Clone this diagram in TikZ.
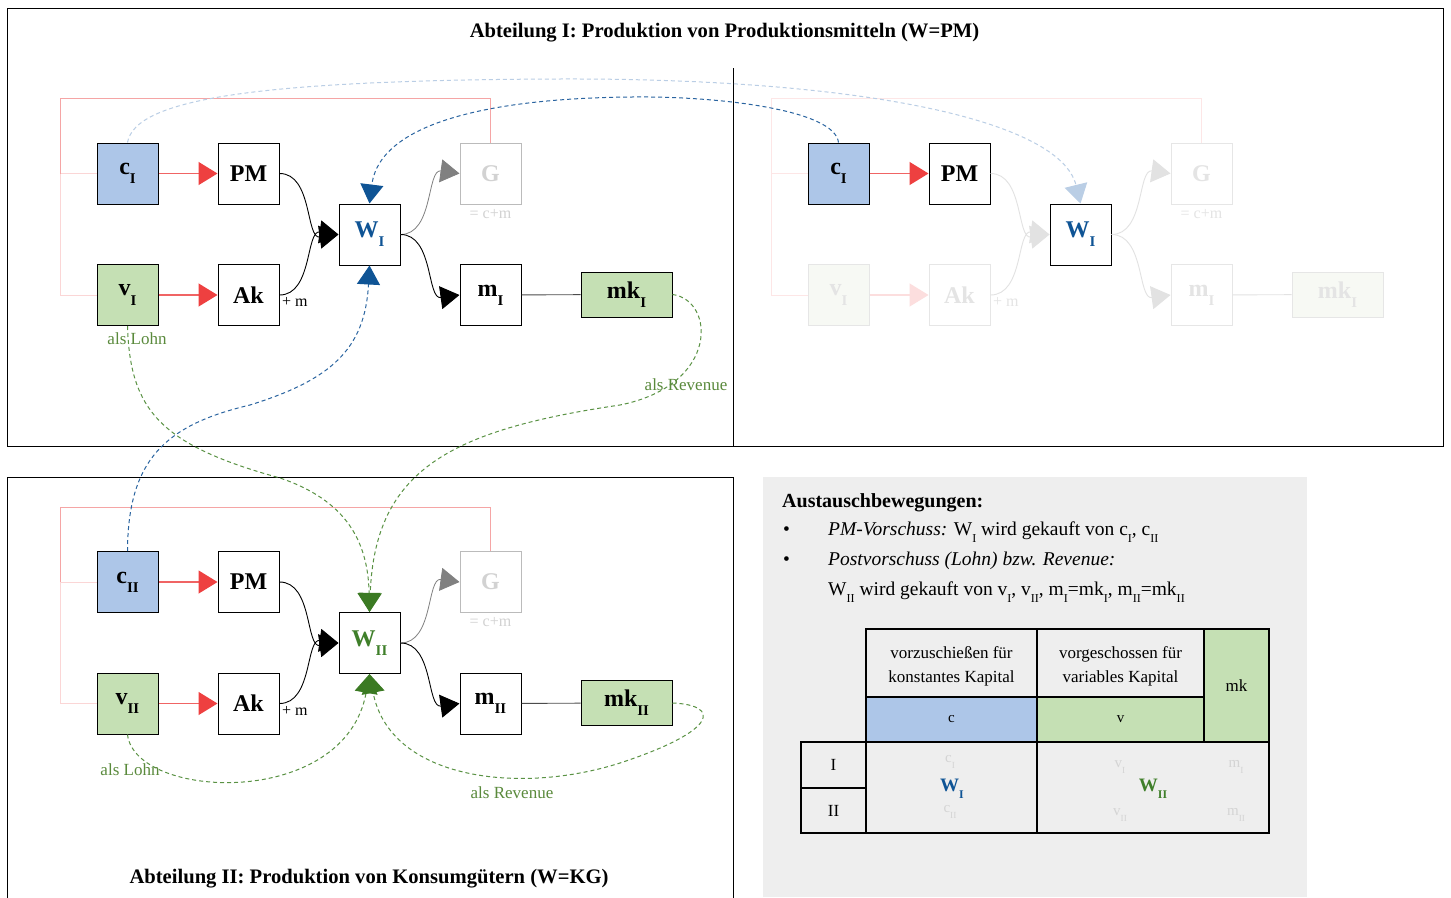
\documentclass[tikz,border=0pt]{standalone}
\usepackage{fontspec}
\usepackage{graphicx}
\setmainfont{Liberation Serif}
\usetikzlibrary{arrows.meta}
\definecolor{cblue}{HTML}{ADC6E8}
\definecolor{cgreen}{HTML}{C5E0B4}
\definecolor{credl}{HTML}{F06464}
\definecolor{credh}{HTML}{EE4040}
\definecolor{cpink}{HTML}{F5A5A5}
\definecolor{cpinkl}{HTML}{FBD6D6}
\definecolor{cpinkf}{HTML}{FDE6E6}
\definecolor{dblue}{HTML}{0F5495}
\definecolor{dbluel}{HTML}{2A64A0}
\definecolor{lblue}{HTML}{BACEE5}
\definecolor{dgreen}{HTML}{3B7A23}
\definecolor{dgreenl}{HTML}{5A9244}
\definecolor{tgreen}{HTML}{5A8A3C}
\definecolor{wgreen}{HTML}{3F7F2A}
\definecolor{gbord}{HTML}{BBBBBB}
\definecolor{gtext}{HTML}{D2D2D2}
\definecolor{fbord}{HTML}{E6E6E6}
\definecolor{ftext}{HTML}{E4E4E4}
\definecolor{farr}{HTML}{E2E2E2}
\definecolor{fgreen}{HTML}{F7F9F4}
\definecolor{fred}{HTML}{FCDEDE}
\definecolor{bgrey}{HTML}{EEEEEE}
\definecolor{tfade}{HTML}{D4D4D4}
\newcommand{\sbx}[1]{\raisebox{-0.38em}{\scalebox{0.62}{#1}}}
\tikzset{
  box/.style={draw=black, line width=1pt, minimum width=61pt, minimum height=61pt, inner sep=0pt, font=\fontsize{24}{26}\selectfont\bfseries},
  fadebox/.style={box, draw=fbord, text=ftext},
  gbox/.style={box, draw=gbord, text=gtext},
  widebox/.style={minimum width=91pt, minimum height=45pt},
  tipT/.style={-{Triangle[length=19pt,width=23pt,#1]}},
  redarr/.style={draw=credl, line width=1.3pt, tipT={color=credh}},
  fredarr/.style={draw=fred, line width=1.3pt, tipT={color=fred}},
  blkarr/.style={draw=black, line width=0.9pt, tipT={color=black}},
  greyarr/.style={draw=gray, line width=0.8pt, tipT={color=gray}},
  fadearr/.style={draw=farr, line width=0.9pt, tipT={color=farr}},
  bluedash/.style={draw=dbluel, line width=1pt, dash pattern=on 4pt off 3pt, tipT={color=dblue}},
  lbluedash/.style={draw=lblue, line width=1pt, dash pattern=on 4pt off 3pt, tipT={color=lblue}},
  greendash/.style={draw=dgreenl, line width=1pt, dash pattern=on 4pt off 3pt, tipT={color=dgreen}},
  pinkline/.style={draw=cpink, line width=1pt},
  pinklline/.style={draw=cpinkl, line width=1pt},
  pinkfline/.style={draw=cpinkf, line width=1pt},
  smalltxt/.style={font=\fontsize{16}{18}\selectfont, inner sep=1pt},
  lbl/.style={font=\fontsize{17}{19}\selectfont, text=tgreen, inner sep=1pt},
  ttl/.style={font=\fontsize{20.6}{23}\selectfont\bfseries, inner sep=0pt},
  txt/.style={font=\fontsize{19.5}{22}\selectfont, inner sep=0pt, anchor=base west},
  cell/.style={draw=black, line width=1.2pt, inner sep=0pt, align=center, font=\fontsize{17}{24}\selectfont},
  fadetxt/.style={font=\fontsize{15}{17}\selectfont, text=tfade, inner sep=0pt},
  frame/.style={draw=black, line width=1pt}
}
\begin{document}
\begin{tikzpicture}[x=1pt,y=-1pt]
\useasboundingbox (0,0) rectangle (1451,897);
\fill[white] (0,0) rectangle (1451,897);
% frames
\draw[frame] (7,8) rectangle (1443,446);
\draw[frame] (733,68) -- (733,446);
\draw[frame] (7,900) -- (7,477) -- (733,477) -- (733,900);
\fill[bgrey] (763,477) rectangle (1307,897);

% titles
\node[ttl] (t1) at (724.5,33) {Abteilung I: Produktion von Produktionsmitteln (W=PM)};
\node[ttl] (t2) at (369,879) {Abteilung II: Produktion von Konsumgütern (W=KG)};

% ===== top-left =====
\node[box, fill=cblue] (c1) at (127.5,173.5) {c\sbx{I}};
\node[box] (pm1) at (248.5,173.5) {PM};
\node[box, text=dblue] (w1) at (369.5,234.5) {W\sbx{I}};
\node[gbox] (g1) at (490.5,173.5) {G};
\node[smalltxt, text=gtext] (g1l) at (490.5,214) {= c+m};
\node[box, fill=cgreen] (v1) at (127.5,295) {v\sbx{I}};
\node[box] (ak1) at (248.5,295) {Ak};
\node[smalltxt, anchor=west] (ak1l) at (281,302) {+ m};
\node[box] (m1) at (490.5,295) {m\sbx{I}};
\node[box, widebox, fill=cgreen] (mk1) at (626.5,294.5) {mk\sbx{I}};
\coordinate (f1) at (60,98);
\draw[pinklline] (c1.west) -- (f1 |- c1.west) |- (v1.west);
\draw[pinkline] (g1.north) |- (f1) -- (f1 |- c1.west);
\draw[redarr] (c1) -- (pm1);
\draw[redarr] (v1) -- (ak1);
\draw[blkarr] (pm1.east) to[out=0,in=188] (w1.west);
\draw[blkarr] (ak1.east) to[out=0,in=172] (w1.west);
\draw[greyarr] (w1.east) to[out=0,in=172] (g1.west);
\draw[blkarr] (w1.east) to[out=0,in=188] (m1.west);
\draw[draw=black!70, line width=0.9pt] (m1) -- (mk1);

% ===== top-right (faded) =====
\node[box, fill=cblue] (c1r) at (838.5,173.5) {c\sbx{I}};
\node[box] (pm1r) at (959.5,173.5) {PM};
\node[box, text=dblue] (w1r) at (1080.5,234.5) {W\sbx{I}};
\node[fadebox] (g1r) at (1201.5,173.5) {G};
\node[smalltxt, text=ftext] (g1rl) at (1201.5,214) {= c+m};
\node[fadebox, fill=fgreen] (v1r) at (838.5,295) {v\sbx{I}};
\node[fadebox] (ak1r) at (959.5,295) {Ak};
\node[smalltxt, text=ftext, anchor=west] (ak1rl) at (992,302) {+ m};
\node[fadebox] (m1r) at (1201.5,295) {m\sbx{I}};
\node[fadebox, widebox, fill=fgreen] (mk1r) at (1337.5,294.5) {mk\sbx{I}};
\coordinate (f1r) at (771,98);
\draw[pinkfline] (g1r.north) |- (f1r) |- (v1r.west);
\draw[pinkfline] (c1r.west) -- (f1r |- c1r.west);
\draw[redarr] (c1r) -- (pm1r);
\draw[fredarr] (v1r) -- (ak1r);
\draw[fadearr] (pm1r.east) to[out=0,in=188] (w1r.west);
\draw[fadearr] (ak1r.east) to[out=0,in=172] (w1r.west);
\draw[fadearr] (w1r.east) to[out=0,in=172] (g1r.west);
\draw[fadearr] (w1r.east) to[out=0,in=188] (m1r.west);
\draw[draw=farr, line width=0.9pt] (m1r) -- (mk1r);

% ===== bottom =====
\node[box, fill=cblue] (c2) at (127.5,582) {c\sbx{II}};
\node[box] (pm2) at (248.5,582) {PM};
\node[box, text=wgreen] (w2) at (369.5,643) {W\sbx{II}};
\node[gbox] (g2) at (490.5,582) {G};
\node[smalltxt, text=gtext] (g2l) at (490.5,622.5) {= c+m};
\node[box, fill=cgreen] (v2) at (127.5,703.5) {v\sbx{II}};
\node[box] (ak2) at (248.5,703.5) {Ak};
\node[smalltxt, anchor=west] (ak2l) at (281,710.5) {+ m};
\node[box] (m2) at (490.5,703.5) {m\sbx{II}};
\node[box, widebox, fill=cgreen] (mk2) at (626.5,703) {mk\sbx{II}};
\coordinate (f2) at (60,507);
\draw[pinklline] (c2.west) -- (f2 |- c2.west) |- (v2.west);
\draw[pinkline] (g2.north) |- (f2) -- (f2 |- c2.west);
\draw[redarr] (c2) -- (pm2);
\draw[redarr] (v2) -- (ak2);
\draw[blkarr] (pm2.east) to[out=0,in=188] (w2.west);
\draw[blkarr] (ak2.east) to[out=0,in=172] (w2.west);
\draw[greyarr] (w2.east) to[out=0,in=172] (g2.west);
\draw[blkarr] (w2.east) to[out=0,in=188] (m2.west);
\draw[draw=black!70, line width=0.9pt] (m2) -- (mk2);

% ===== exchange curves =====
\draw[lbluedash] (c1.north) .. controls (135,100) and (250,80) .. (560,79) .. controls (860,78) and (1060,120) .. (w1r.north);
\draw[bluedash] (c1r.north) .. controls (835,110) and (720,96) .. (632,97) .. controls (500,98) and (380,120) .. (w1.north);
\draw[bluedash] (c2.north) .. controls (128,460) and (165,425) .. (250,405) .. controls (330,380) and (365,350) .. (w1.south);
\draw[greendash] (v1.south) .. controls (130,410) and (160,445) .. (280,478) .. controls (345,500) and (368,540) .. (w2.north);
\draw[greendash] (mk1.east) .. controls (715,300) and (720,385) .. (620,405) .. controls (450,430) and (375,470) .. (w2.north);
\draw[greendash] (v2.south) .. controls (135,800) and (345,810) .. (w2.south);
\draw[greendash] (mk2.east) .. controls (720,705) and (720,730) .. (620,763) .. controls (520,795) and (390,780) .. (w2.south);

\node[lbl] (lohn1) at (137,339) {als Lohn};
\node[lbl] (rev1) at (686,385) {als Revenue};
\node[lbl] (lohn2) at (130,770) {als Lohn};
\node[lbl] (rev2) at (512,793) {als Revenue};

% ===== legend =====
\node[txt, font=\fontsize{20}{22}\selectfont\bfseries] (aus) at (782,507) {Austauschbewegungen:};
\node[txt] (bul1) at (783,535) {•};
\node[txt] (l1) at (828,535) {\textit{PM-Vorschuss:} W\sbx{I} wird gekauft von c\sbx{I}, c\sbx{II}};
\node[txt] (bul2) at (783,565) {•};
\node[txt] (l2) at (828,565) {\textit{Postvorschuss (Lohn) bzw. Revenue:}};
\node[txt] (l3) at (828,595) {W\sbx{II} wird gekauft von v\sbx{I}, v\sbx{II}, m\sbx{I}=mk\sbx{I}, m\sbx{II}=mk\sbx{II}};

% ===== table =====
\node[cell, minimum width=171pt, minimum height=68pt] (h1) at (951.5,663) {};
\node[cell, minimum width=167pt, minimum height=68pt] (h2) at (1120.5,663) {};
\node[align=center, font=\fontsize{17}{24}\selectfont, inner sep=0pt] (h1t) at (951.5,666) {vorzuschießen für\\konstantes Kapital};
\node[align=center, font=\fontsize{17}{24}\selectfont, inner sep=0pt] (h2t) at (1120.5,666) {vorgeschossen für\\variables Kapital};
\node[cell, minimum width=65pt, minimum height=113pt, fill=cgreen] (hmk) at (1236.5,685.5) {mk};
\node[cell, minimum width=171pt, minimum height=45pt, fill=cblue, font=\fontsize{15}{17}\selectfont] (hc) at (951.5,719.5) {c};
\node[cell, minimum width=167pt, minimum height=45pt, fill=cgreen, font=\fontsize{15}{17}\selectfont] (hv) at (1120.5,719.5) {v};
\node[cell, minimum width=65pt, minimum height=46pt] (r1) at (833.5,765) {I};
\node[cell, minimum width=65pt, minimum height=45pt] (r2) at (833.5,810.5) {II};
\node[cell, minimum width=171pt, minimum height=91pt] (b1) at (951.5,787.5) {};
\node[cell, minimum width=232pt, minimum height=91pt] (b2) at (1153,787.5) {};
\node[fadetxt] (tc1) at (950,762) {c\sbx{I}};
\node[fadetxt] (tc2) at (950,812) {c\sbx{II}};
\node[fadetxt] (tv1) at (1120,767) {v\sbx{I}};
\node[fadetxt] (tv2) at (1120,815) {v\sbx{II}};
\node[fadetxt] (tm1) at (1236,767) {m\sbx{I}};
\node[fadetxt] (tm2) at (1236,815) {m\sbx{II}};
\node[font=\fontsize{19}{21}\selectfont\bfseries, text=dblue, inner sep=0pt] (tw1) at (952,789) {W\sbx{I}};
\node[font=\fontsize{19}{21}\selectfont\bfseries, text=wgreen, inner sep=0pt] (tw2) at (1153,789) {W\sbx{II}};
\end{tikzpicture}
\end{document}
